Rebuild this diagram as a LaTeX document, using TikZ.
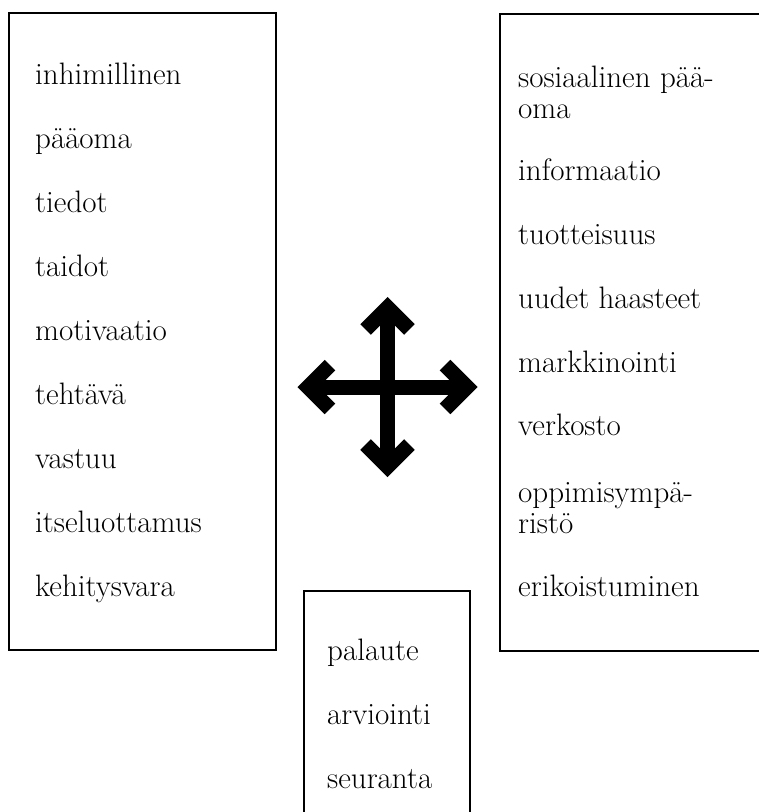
\documentclass[tikz,border=0pt]{standalone}
\usepackage{fontspec}
\usepackage{tikz}
\usetikzlibrary{calc}
\tikzset{
  box/.style={draw,line width=2.5pt,inner sep=0pt},
  item/.style={anchor=base west,inner sep=0pt,align=left,font=\fontsize{31}{26.5}\selectfont},
  shaft/.style={line width=15pt},
  head/.style={line width=15pt,line join=miter,miter limit=10},
}

\begin{document}
\begin{tikzpicture}[x=1pt,y=-1pt]
\clip (0,0) rectangle (759,812);
\node[box,minimum width=267,minimum height=637] (lbox) at (142.5,331.5) {};
\node[box,minimum width=290,minimum height=637] (rbox) at (645,332.5) {};
\node[box,minimum width=166,minimum height=250] (bbox) at (387,716) {};
% left column
\foreach \t [count=\i from 0] in {inhimillinen,pääoma,tiedot,taidot,motivaatio,tehtävä,vastuu,itseluottamus,kehitysvara}
  \node[item] (l\i) at (35,84+\i*64) {\t};
% right column (base = last line)
\node[item] (r1) at (518,118) {sosiaalinen pää-\\[4pt]oma};
\node[item] (r2) at (518,180) {informaatio};
\node[item] (r3) at (518,244) {tuotteisuus};
\node[item] (r4) at (518,308) {uudet haasteet};
\node[item] (r5) at (518,372) {markkinointi};
\node[item] (r6) at (518,435) {verkosto};
\node[item] (r7) at (518,533) {oppimisympä-\\[4pt]ristö};
\node[item] (r8) at (518,596) {erikoistuminen};
% bottom
\foreach \t [count=\i from 0] in {palaute,arviointi,seuranta}
  \node[item] (b\i) at (327,660+\i*64) {\t};
% four-way arrow
\coordinate (c) at (387.5,387);
\foreach \a in {0,90,180,270} {
  \draw[shaft] (c) -- ($(c)+(\a:79.4)$) coordinate (v\a);
  \draw[head] ($(v\a)+(\a+135:31)$) -- (v\a) -- ($(v\a)+(\a-135:31)$);
}
\end{tikzpicture}
\end{document}
